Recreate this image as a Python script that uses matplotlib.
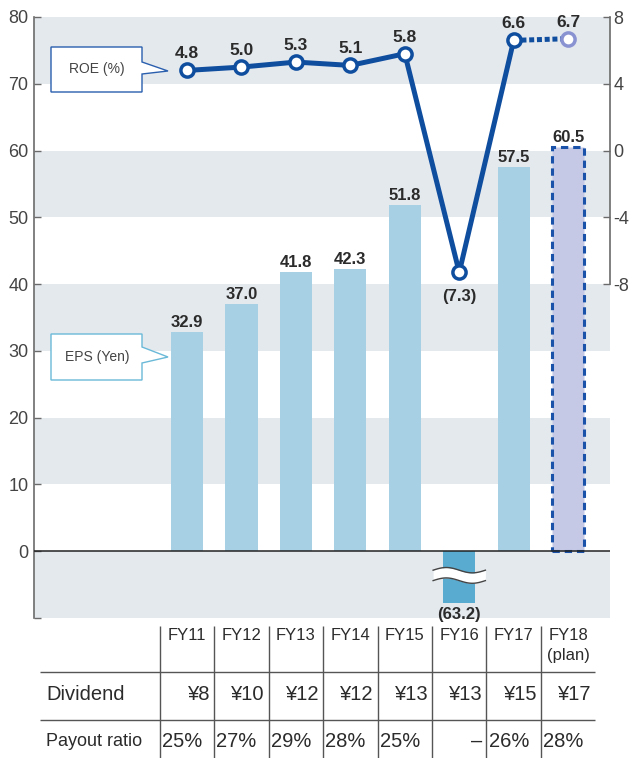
import numpy as np
import matplotlib
matplotlib.use("Agg")
import matplotlib.pyplot as plt
from matplotlib.patches import Polygon

plt.rcParams['font.family'] = ['Liberation Sans', 'DejaVu Sans']

# data
years = ["FY11", "FY12", "FY13", "FY14", "FY15", "FY16", "FY17", "FY18\n(plan)"]
eps = [32.9, 37.0, 41.8, 42.3, 51.8, -63.2, 57.5, 60.5]
roe = [4.8, 5.0, 5.3, 5.1, 5.8, -7.3, 6.6, 6.7]
dividend = [8, 10, 12, 12, 13, 13, 15, 17]
payout = [25, 27, 29, 28, 25, None, 26, 28]
roe_ticks = [-8, -4, 0, 4, 8]

W, H = 632, 758
EPS_CLIP = -7.7  # the FY16 bar is drawn broken

bar_c = '#a8d0e4'
neg_c = '#5aabd0'
plan_c = '#c6c9e6'
line_c = '#0f4d9f'
band_c = '#e4e9ee'
txt_c = '#2b2b2b'
axis_c = '#6b6b6b'

fig = plt.figure(figsize=(W / 100, H / 100), dpi=100)
x0, x1, ytop, ybot = 34, 610, 17, 618
ax = fig.add_axes([x0 / W, 1 - ybot / H, (x1 - x0) / W, (ybot - ytop) / H])

# category axis: centre of FY11 at px 187, spacing 54.45 px
c0, step = 187, 54.45
def cat(px):
    return (px - c0) / step

xlim = (cat(x0), cat(x1))
ax.set_xlim(*xlim)
ax.set_ylim(-10, 80)

for b in range(-10, 80, 20):
    ax.axhspan(b, b + 10, color=band_c, lw=0, zorder=0)
ax.axhline(0, color='#222222', lw=1.1, zorder=3)

x = np.arange(len(years))
shown = np.maximum(eps, EPS_CLIP)
colors = [bar_c] * len(eps)
colors[5] = neg_c
colors[7] = plan_c
bars = ax.bar(x, shown, width=0.59, color=colors, zorder=2)
bars[7].set_edgecolor('#1a52aa')
bars[7].set_linewidth(2.2)
bars[7].set_linestyle((0, (2.4, 1.6)))

# break symbol on FY16 bar
xw = np.linspace(5 - 0.48, 5 + 0.48, 60)
wave = 0.4 * np.sin(2 * np.pi * (xw - xw[0]) / (xw[-1] - xw[0]))
up, lo = -2.84 + wave, -4.4 + wave
ax.fill_between(xw, lo, up, color='white', lw=0, zorder=4)
ax.plot(xw, up, color='#444444', lw=1.0, zorder=5)
ax.plot(xw, lo, color='#444444', lw=1.0, zorder=5)

for i, v in enumerate(eps):
    if v >= 0:
        ax.annotate(f'{v:.1f}', (i, v), xytext=(0, 3.6), textcoords='offset points',
                    ha='center', va='baseline', fontsize=12, fontweight='bold', color=txt_c)
    else:
        ax.annotate(f'({-v:.1f})', (i, shown[i]), xytext=(0, -3), textcoords='offset points',
                    ha='center', va='top', fontsize=12, fontweight='bold', color=txt_c)

# left axis
for s in ['top', 'bottom', 'right']:
    ax.spines[s].set_visible(False)
ax.spines['left'].set_color(axis_c)
ax.spines['left'].set_linewidth(1.2)
ax.set_yticks(range(-10, 81, 10))
ax.set_yticklabels([''] + [str(v) for v in range(0, 81, 10)])
ax.tick_params(axis='y', direction='in', length=5, width=1, color=axis_c,
               labelsize=13, labelcolor='#444444', pad=4)
ax.set_xticks([])

# right axis (ROE)
ax2 = ax.twinx()
ax2.set_ylim(-28, 8)
ax2.set_xlim(*xlim)
for s in ['top', 'bottom', 'left']:
    ax2.spines[s].set_visible(False)
ax2.spines['right'].set_bounds(-8, 8)
ax2.spines['right'].set_color(axis_c)
ax2.spines['right'].set_linewidth(1.2)
ax2.set_yticks(roe_ticks)
ax2.set_yticklabels([str(t) for t in roe_ticks])
ax2.tick_params(axis='y', direction='in', length=5, width=1, color=axis_c,
                labelsize=13, labelcolor='#444444', pad=2.5)

ax2.plot(x[:7], roe[:7], color=line_c, lw=3.6, zorder=3, solid_joinstyle='round')
ax2.plot(x[6:], roe[6:], color=line_c, lw=3.6, ls=(0, (1.0, 0.55)), zorder=3)
ax2.plot(x[:7], roe[:7], 'o', ms=9.5, mfc='white', mec=line_c, mew=2.5, zorder=4)
ax2.plot(x[7:], roe[7:], 'o', ms=9.5, mfc='white', mec='#8a93d2', mew=2.5, zorder=4)
for i, v in enumerate(roe):
    if v >= 0:
        ax2.annotate(f'{v:.1f}', (i, v), xytext=(0, 8.6), textcoords='offset points',
                     ha='center', va='baseline', fontsize=12.5, fontweight='bold', color=txt_c)
    else:
        ax2.annotate(f'({-v:.1f})', (i, v), xytext=(0, -17), textcoords='offset points',
                     ha='center', va='center', fontsize=12, fontweight='bold', color=txt_c)

# callouts (pixel positions)
def fpt(px, py):
    return (px / W, 1 - py / H)

def callout(y0, y1, n0, tip, n1, edge, label):
    pts = [(51, y0), (142, y0), (142, n0), (168, tip), (142, n1), (142, y1), (51, y1)]
    poly = Polygon([fpt(*p) for p in pts], closed=True, fc='white', ec=edge, lw=1.0,
                   transform=fig.transFigure, zorder=10)
    fig.add_artist(poly)
    fig.text(*fpt(97, (y0 + y1) / 2), label, ha='center', va='center',
             fontsize=10, color='#444444', zorder=11)

callout(47, 92, 62, 71, 74, '#2a5fae', 'ROE (%)')
callout(334, 380, 347, 357, 363, '#6ab9d8', 'EPS (Yen)')

# table below the chart
tab = fig.add_axes([x0 / W, 0, (x1 - x0) / W, (H - ybot) / H])
tab.set_xlim(*xlim)
tab.set_ylim(H, ybot)
tab.axis('off')
tab.vlines(x - 0.5, 626, H, color='#555555', lw=1)
tab.hlines([672, 720], cat(40), cat(595), color='#555555', lw=1)

for i, y in enumerate(years):
    tab.text(i, 628, y, ha='center', va='top', fontsize=12, color=txt_c, linespacing=1.4)

tab.text(cat(46), 694, 'Dividend', ha='left', va='center', fontsize=14.5, color=txt_c)
tab.text(cat(46), 741, 'Payout ratio', ha='left', va='center', fontsize=13, color=txt_c)
for i, d in enumerate(dividend):
    tab.text(i + 0.5 - 0.07, 694, f'¥{d}', ha='right', va='center', fontsize=14.5, color=txt_c)
for i, p in enumerate(payout):
    if p is None:
        tab.text(i + 0.5 - 0.07, 741, '–', ha='right', va='center', fontsize=14.5, color=txt_c)
    else:
        tab.text(i - 0.5 + 0.04, 741, f'{p}%', ha='left', va='center', fontsize=14.5, color=txt_c)

fig.savefig('out.png', dpi=100)
